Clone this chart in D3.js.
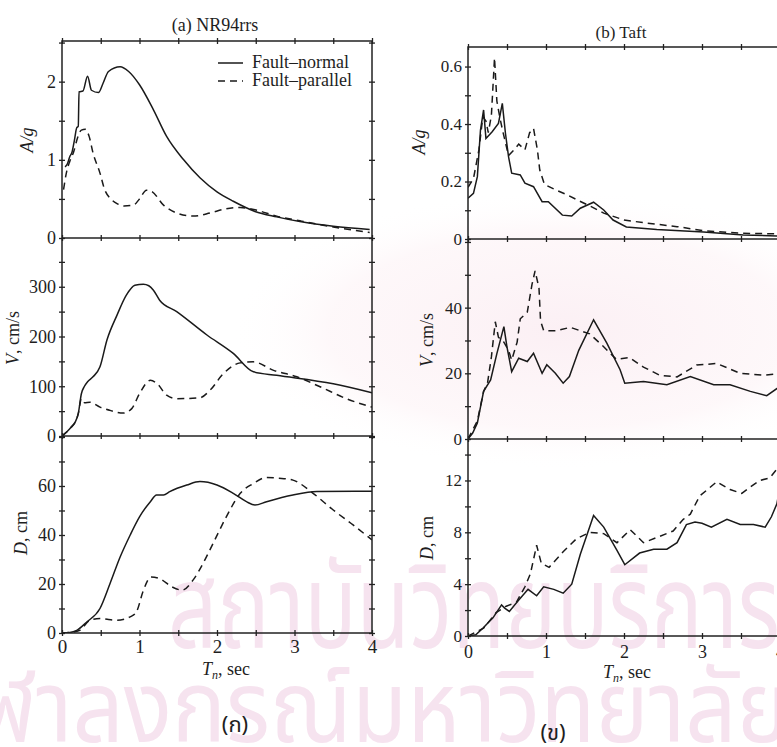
<!DOCTYPE html>
<html>
<head>
<meta charset="utf-8">
<script src="https://cdn.jsdelivr.net/npm/d3@7"></script>
<style>
  body { margin: 0; background: #fff; }
  svg text { font-family: "Liberation Serif", "DejaVu Serif", serif; fill: #1e1e1e; }
  svg text.wm { font-family: "Noto Sans Thai", "Loma", "Garuda", "Norasi", "DejaVu Sans", sans-serif; fill: #f6e3ef; }
  svg text.tag { font-family: "Noto Sans Thai", "Loma", "Garuda", "DejaVu Sans", sans-serif; }
</style>
</head>
<body>
<svg id="fig" width="777" height="747"></svg>
<script>
/*** data: [T (sec), value] ***/

// (a) NR94rrs
var nrAccNormal = [[0.04,0.91],[0.07,0.95],[0.1,1.04],[0.13,1.1],[0.16,1.25],[0.19,1.41],[0.21,1.43],[0.22,1.87],[0.27,1.88],[0.33,2.07],[0.38,1.89],[0.47,1.86],[0.53,1.98],[0.6,2.13],[0.75,2.19],[0.86,2.13],[1.0,1.96],[1.18,1.64],[1.35,1.30],[1.57,1.0],[1.78,0.77],[2.0,0.59],[2.21,0.47],[2.49,0.34],[2.77,0.27],[3.07,0.21],[3.5,0.15],[3.97,0.11]];
var nrAccParallel = [[0.02,0.62],[0.06,0.85],[0.1,0.98],[0.15,1.1],[0.2,1.28],[0.25,1.38],[0.3,1.39],[0.35,1.3],[0.4,1.09],[0.49,0.83],[0.55,0.62],[0.63,0.5],[0.71,0.44],[0.8,0.41],[0.92,0.42],[1.0,0.5],[1.09,0.61],[1.15,0.6],[1.31,0.42],[1.48,0.32],[1.69,0.28],[1.91,0.32],[2.1,0.37],[2.3,0.39],[2.49,0.36],[2.77,0.28],[3.07,0.22],[3.5,0.14],[3.97,0.07]];
var nrVelNormal = [[0,0],[0.06,8],[0.12,18],[0.17,28],[0.21,45],[0.25,85],[0.29,100],[0.33,109],[0.4,119],[0.49,139],[0.58,193],[0.71,243],[0.83,283],[0.94,303],[1.05,305],[1.12,302],[1.18,293],[1.26,273],[1.48,250],[1.87,203],[2.21,166],[2.47,129],[2.77,122],[3.5,105],[4.0,87]];
var nrVelParallel = [[0,0],[0.06,8],[0.12,18],[0.17,28],[0.21,45],[0.25,75],[0.29,67],[0.36,68],[0.49,58],[0.63,51],[0.79,46],[0.9,55],[1.0,85],[1.14,112],[1.23,105],[1.35,82],[1.48,75],[1.78,77],[1.91,92],[2.08,125],[2.3,147],[2.47,149],[2.73,132],[3.03,119],[3.33,99],[3.67,75],[4.0,58]];
var nrDispNormal = [[0,0],[0.1,0.2],[0.19,1.1],[0.32,4.5],[0.49,10],[0.62,20.2],[0.75,31],[0.88,40],[1.0,47.4],[1.14,53.6],[1.22,56.3],[1.31,56.3],[1.39,57.7],[1.61,60.4],[1.78,61.8],[2.0,60.4],[2.21,57],[2.38,53.6],[2.49,52.2],[2.64,53.6],[2.98,56.3],[3.29,57.7],[4.0,57.9]];
var nrDispParallel = [[0,0],[0.1,0.2],[0.23,1.1],[0.36,5.2],[0.49,5.9],[0.6,5.5],[0.71,5.2],[0.88,6.6],[0.96,8.6],[1.05,17.4],[1.15,22.9],[1.26,22.2],[1.42,18.8],[1.55,17.5],[1.7,22],[1.82,28.4],[1.95,36.6],[2.12,47.4],[2.3,57],[2.47,61],[2.64,63.5],[2.8,63.2],[2.98,62.4],[3.24,57],[3.5,50.2],[3.76,44],[4.0,38]];

// (b) Taft
var taftAccNormal = [[0,0.142],[0.07,0.159],[0.12,0.217],[0.16,0.379],[0.2,0.449],[0.23,0.35],[0.31,0.373],[0.39,0.402],[0.44,0.472],[0.48,0.368],[0.52,0.286],[0.56,0.229],[0.67,0.223],[0.73,0.194],[0.84,0.182],[0.95,0.13],[1.03,0.13],[1.21,0.083],[1.33,0.08],[1.44,0.107],[1.61,0.128],[1.74,0.101],[1.86,0.066],[2.03,0.042],[2.42,0.033],[3.02,0.024],[3.53,0.014],[4.0,0.01]];
var taftAccParallel = [[0,0.18],[0.07,0.21],[0.14,0.31],[0.19,0.425],[0.23,0.41],[0.26,0.37],[0.3,0.43],[0.34,0.63],[0.37,0.48],[0.41,0.42],[0.45,0.37],[0.52,0.29],[0.59,0.31],[0.65,0.33],[0.73,0.31],[0.79,0.37],[0.84,0.385],[0.89,0.31],[0.92,0.24],[0.98,0.19],[1.13,0.17],[1.26,0.155],[1.4,0.136],[1.57,0.114],[1.74,0.09],[2.0,0.066],[2.3,0.055],[2.68,0.043],[3.02,0.029],[3.49,0.02],[4.0,0.018]];
var taftVelNormal = [[0,0],[0.06,1.8],[0.12,4.9],[0.2,14.5],[0.29,18],[0.37,26],[0.46,34.2],[0.5,28],[0.56,20.5],[0.65,24.6],[0.76,23.6],[0.84,26.1],[0.95,20],[1.01,22.6],[1.12,20],[1.22,17],[1.3,19],[1.42,27],[1.61,36.3],[1.78,29.2],[1.95,21.1],[2.01,17],[2.25,17.5],[2.55,16.5],[2.85,19],[3.15,16.5],[3.36,16.5],[3.62,14.5],[3.83,13.2],[4.0,16]];
var taftVelParallel = [[0,0],[0.12,5.5],[0.2,14.5],[0.25,17],[0.3,25],[0.35,35.7],[0.39,31],[0.46,29.5],[0.52,27],[0.56,24],[0.63,29.5],[0.67,36.6],[0.76,38.6],[0.82,47],[0.86,51.2],[0.91,46],[0.93,36],[0.97,33],[1.14,33],[1.31,34],[1.56,32],[1.73,28.3],[1.9,24.3],[2.07,24.8],[2.25,21.9],[2.46,19.4],[2.68,18.9],[2.93,22.5],[3.19,23],[3.49,20],[3.79,19.4],[4.0,20]];
var taftDispNormal = [[0,0],[0.1,0.1],[0.19,0.6],[0.32,1.4],[0.43,2.4],[0.47,2.15],[0.53,1.9],[0.64,2.7],[0.77,3.6],[0.88,3.1],[0.97,3.8],[1.1,3.6],[1.22,3.3],[1.33,4.0],[1.44,6.3],[1.61,9.3],[1.74,8.4],[1.91,6.6],[2.01,5.5],[2.2,6.4],[2.38,6.7],[2.55,6.7],[2.68,7.2],[2.8,8.6],[2.91,8.8],[3.0,8.7],[3.12,8.4],[3.32,9.0],[3.49,8.6],[3.66,8.6],[3.81,8.4],[3.89,9.2],[3.96,10.2],[4.0,11.5]];
var taftDispParallel = [[0,0],[0.2,0.6],[0.36,1.8],[0.49,2.3],[0.62,2.6],[0.73,3.8],[0.8,4.8],[0.88,7.0],[0.94,5.6],[1.04,5.3],[1.22,6.5],[1.39,7.5],[1.56,8.0],[1.74,7.9],[1.91,7.2],[2.08,8.2],[2.25,7.2],[2.42,7.6],[2.63,8.1],[2.76,9.0],[2.85,9.4],[2.97,10.8],[3.19,11.9],[3.36,11.3],[3.51,11.0],[3.62,11.5],[3.74,12.0],[3.87,12.2],[3.95,12.8],[4.0,13.5]];

// tick labels
var periodTicks = [0, 1, 2, 3, 4];
var nrAccTicks = [0, 1, 2], nrVelTicks = [0, 100, 200, 300], nrDispTicks = [0, 20, 40, 60];
var taftAccTicks = [0, 0.2, 0.4, 0.6], taftVelTicks = [0, 20, 40], taftDispTicks = [0, 4, 8, 12];
var legendNames = ["Fault\u2013normal", "Fault\u2013parallel"];

var svg = d3.select("#fig");

/* --------------- scan background: pale wash + watermark --------------- */
var defs = svg.append("defs");
var grad = defs.append("radialGradient").attr("id", "wash");
grad.append("stop").attr("offset", "0%").attr("stop-color", "#fbeef3").attr("stop-opacity", 0.9);
grad.append("stop").attr("offset", "70%").attr("stop-color", "#fdf3f6").attr("stop-opacity", 0.6);
grad.append("stop").attr("offset", "100%").attr("stop-color", "#ffffff").attr("stop-opacity", 0);
svg.append("ellipse").attr("cx", 560).attr("cy", 330).attr("rx", 330).attr("ry", 140).attr("fill", "url(#wash)");

svg.append("text").attr("class", "wm")
    .attr("x", 168).attr("y", 648).attr("font-size", 118)
    .attr("textLength", 612).attr("lengthAdjust", "spacingAndGlyphs")
    .text("สถาบันวิทยบริการ");
svg.append("text").attr("class", "wm")
    .attr("x", -72).attr("y", 742).attr("font-size", 100)
    .attr("textLength", 862).attr("lengthAdjust", "spacingAndGlyphs")
    .text("จุฬาลงกรณ์มหาวิทยาลัย");

/* --------------- panels --------------- */
var panels = [
  { title: "(a) NR94rrs", titleX: 215, titleY: 31,
    x0: 62, x1: 372, rows: [41, 238, 436, 633], yMax: [2.52, 398, 80.4],
    ticks: [nrAccTicks, nrVelTicks, nrDispTicks], minor: [0.5, 50, 10],
    series: [[nrAccNormal, nrAccParallel], [nrVelNormal, nrVelParallel], [nrDispNormal, nrDispParallel]],
    ylabX: [33, 19, 27], ylabY: [140, 338, 533],
    xTickY: 652, xlabX: 226, xlabY: 675, tag: "(ก)", tagX: 235, tagY: 732,
    curve: d3.curveMonotoneX, fs: 18, legend: true },
  { title: "(b) Taft", titleX: 621, titleY: 38,
    x0: 468, x1: 780, rows: [47, 239, 439, 636], yMax: [0.668, 60.9, 15.2],
    ticks: [taftAccTicks, taftVelTicks, taftDispTicks], minor: [0.1, 10, 2],
    series: [[taftAccNormal, taftAccParallel], [taftVelNormal, taftVelParallel], [taftDispNormal, taftDispParallel]],
    ylabX: [425, 433, 433], ylabY: [142, 340, 538],
    xTickY: 658, xlabX: 627, xlabY: 678, tag: "(ข)", tagX: 553, tagY: 740,
    curve: d3.curveLinear, fs: 17, legend: false }
];

var yLabels = [
  [["A/g", true]],
  [["V", true], [", cm/s", false]],
  [["D", true], [", cm", false]]
];

function straddle(sel, horiz) {
  sel.select(".domain").remove();
  sel.selectAll(".tick text").remove();
  if (horiz) sel.selectAll(".tick line").attr("y1", -3).attr("y2", 3);
  else sel.selectAll(".tick line").attr("x1", -3).attr("x2", 3);
  sel.selectAll(".tick line").attr("stroke", "#222").attr("stroke-width", 1.3);
}

panels.forEach(function(p, pi) {
  var g = svg.append("g");
  var x = d3.scaleLinear().domain([0, 4]).range([p.x0, p.x1]);

  g.append("text").attr("x", p.titleX).attr("y", p.titleY)
      .attr("text-anchor", "middle").attr("font-size", p.fs).text(p.title);

  var clip = svg.append("clipPath").attr("id", "clip" + pi);
  clip.append("rect").attr("x", p.x0).attr("y", p.rows[0])
      .attr("width", p.x1 - p.x0).attr("height", p.rows[3] - p.rows[0]);

  for (var r = 0; r < 3; r++) {
    var top = p.rows[r], bottom = p.rows[r + 1];
    var y = d3.scaleLinear().domain([0, p.yMax[r]]).range([bottom, top]);

    // minor ticks on both vertical frame lines
    var minorVals = d3.range(0, p.yMax[r] + 1e-9, p.minor[r]);
    [p.x0, p.x1].forEach(function(xx) {
      g.append("g").attr("transform", "translate(" + xx + ",0)")
          .call(d3.axisLeft(y).tickValues(minorVals).tickSize(3))
          .call(straddle, false);
    });

    // tick labels
    g.append("g").attr("transform", "translate(" + p.x0 + ",0)")
        .call(d3.axisLeft(y).tickValues(p.ticks[r]).tickSize(0).tickPadding(6)
              .tickFormat(d3.format("")))
        .call(function(s) {
          s.select(".domain").remove();
          s.selectAll(".tick text").attr("font-size", p.fs)
              .attr("font-family", null).attr("fill", null);
        });

    // horizontal tick rows on top of each row
    g.append("g").attr("transform", "translate(0," + top + ")")
        .call(d3.axisBottom(x).tickValues(d3.range(0, 4.01, 0.5)).tickSize(3))
        .call(straddle, true);

    // curves
    var line = d3.line().x(function(d) { return x(d[0]); }).y(function(d) { return y(d[1]); }).curve(p.curve);
    p.series[r].forEach(function(data, si) {
      g.append("path").datum(data)
          .attr("clip-path", "url(#clip" + pi + ")")
          .attr("fill", "none").attr("stroke", "#1a1a1a")
          .attr("stroke-width", 1.5)
          .attr("stroke-dasharray", si === 1 ? "7,5" : null)
          .attr("d", line);
    });

    // y label
    var t = g.append("text")
        .attr("transform", "translate(" + p.ylabX[r] + "," + p.ylabY[r] + ") rotate(-90)")
        .attr("text-anchor", "middle").attr("font-size", 18);
    yLabels[r].forEach(function(part) {
      t.append("tspan").attr("font-style", part[1] ? "italic" : null).text(part[0]);
    });
  }

  // bottom tick row
  g.append("g").attr("transform", "translate(0," + p.rows[3] + ")")
      .call(d3.axisBottom(x).tickValues(d3.range(0, 4.01, 0.5)).tickSize(3))
      .call(straddle, true);

  // frame and row separators
  g.append("rect").attr("x", p.x0).attr("y", p.rows[0])
      .attr("width", p.x1 - p.x0).attr("height", p.rows[3] - p.rows[0])
      .attr("fill", "none").attr("stroke", "#222").attr("stroke-width", 1.5);
  [p.rows[1], p.rows[2]].forEach(function(yy) {
    g.append("line").attr("x1", p.x0).attr("x2", p.x1).attr("y1", yy).attr("y2", yy)
        .attr("stroke", "#222").attr("stroke-width", 1.5);
  });

  // x tick labels
  g.append("g").attr("transform", "translate(0," + (p.xTickY - 13) + ")")
      .call(d3.axisBottom(x).tickValues(periodTicks).tickSize(0).tickPadding(0).tickFormat(d3.format("d")))
      .call(function(s) {
        s.select(".domain").remove();
        s.selectAll(".tick text").attr("font-size", p.fs + 1).attr("dy", "0.71em")
            .attr("font-family", null).attr("fill", null);
      });

  var xl = g.append("text").attr("x", p.xlabX).attr("y", p.xlabY)
      .attr("text-anchor", "middle").attr("font-size", 18);
  xl.append("tspan").attr("font-style", "italic").text("T");
  xl.append("tspan").attr("font-style", "italic").attr("font-size", 12).attr("dy", 4).text("n");
  xl.append("tspan").attr("dy", -4).text(", sec");

  g.append("text").attr("class", "tag").attr("x", p.tagX).attr("y", p.tagY)
      .attr("text-anchor", "middle").attr("font-size", 22).attr("fill", "#222").text(p.tag);

  if (p.legend) {
    var lg = g.append("g");
    legendNames.forEach(function(name, i) {
      var ly = 63 + i * 18;
      lg.append("line").attr("x1", 218).attr("x2", 243).attr("y1", ly).attr("y2", ly)
          .attr("stroke", "#1a1a1a").attr("stroke-width", 1.5)
          .attr("stroke-dasharray", i === 1 ? "7,5" : null);
      lg.append("text").attr("x", 252).attr("y", ly + 5).attr("font-size", 18).text(name);
    });
  }
});
</script>
</body>
</html>
